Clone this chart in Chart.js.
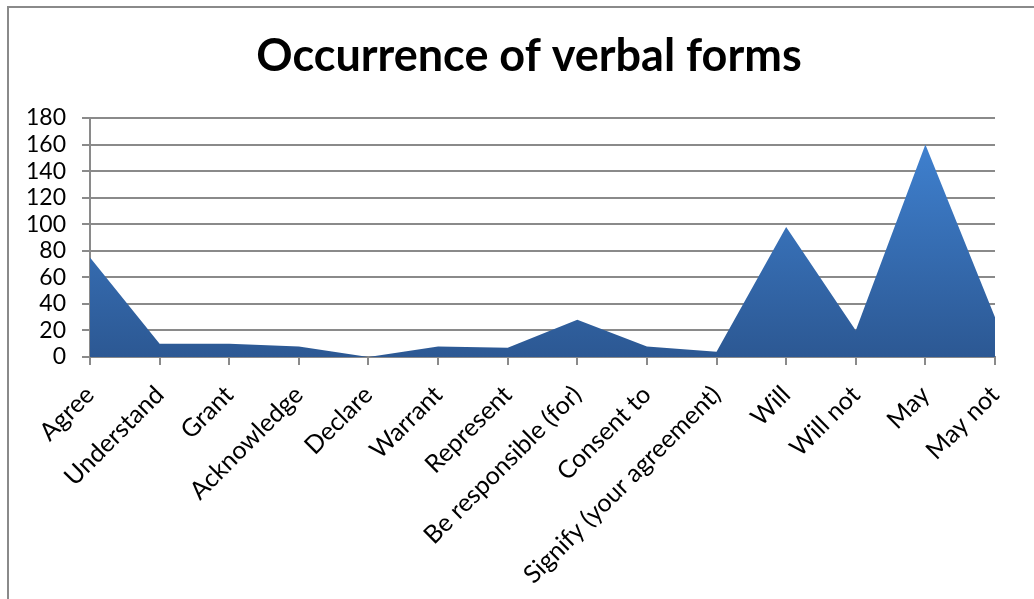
<!DOCTYPE html>
<html>
<head>
<meta charset="utf-8">
<script src="https://cdn.jsdelivr.net/npm/chart.js@4/dist/chart.umd.min.js"></script>
<style>
  html, body { margin: 0; padding: 0; background: #fff; overflow: hidden; }
  #frame { position: absolute; left: 7px; top: 6px; width: 1100px; height: 700px; border: 2px solid #8a8a8a; box-sizing: border-box; }
  #wrap { position: absolute; left: 0; top: 0; width: 1034px; height: 599px; }
</style>
</head>
<body>
<div id="frame"></div>
<div id="wrap"><canvas id="c" width="1034" height="599"></canvas></div>
<script>
const categories = ["Agree", "Understand", "Grant", "Acknowledge", "Declare", "Warrant", "Represent",
  "Be responsible (for)", "Consent to", "Signify (your agreement)", "Will", "Will not", "May", "May not"];
const occurrences = [75, 10, 10, 8, 0, 8, 7, 28, 8, 4, 98, 20, 160, 30];
const yTicks = [0, 20, 40, 60, 80, 100, 120, 140, 160, 180];
const chartTitle = "Occurrence of verbal forms";

const FONT = "Lato, 'Open Sans', sans-serif";

const titlePlugin = {
  id: 'centeredTitle',
  afterDraw(chart) {
    const ctx = chart.ctx;
    ctx.save();
    ctx.fillStyle = '#000';
    ctx.font = "bold 45px " + FONT;
    ctx.textAlign = 'center';
    ctx.textBaseline = 'alphabetic';
    ctx.fillText(chartTitle, 529, 71);
    ctx.restore();
  }
};

new Chart(document.getElementById('c'), {
  type: 'line',
  data: {
    labels: categories,
    datasets: [{
      data: occurrences,
      fill: 'origin',
      tension: 0,
      pointRadius: 0,
      borderWidth: 0,
      borderColor: 'rgba(0,0,0,0)',
      backgroundColor: function (ctx) {
        const chart = ctx.chart;
        const a = chart.chartArea;
        if (!a) return '#3a6fb0';
        const g = chart.ctx.createLinearGradient(0, a.top, 0, a.bottom);
        g.addColorStop(0, '#4185d6');
        g.addColorStop(1, '#2c5893');
        return g;
      }
    }]
  },
  plugins: [titlePlugin],
  options: {
    responsive: false,
    animation: false,
    layout: { padding: { left: 0, right: 39, top: 118, bottom: 0 } },
    plugins: {
      legend: { display: false },
      tooltip: { enabled: false },
      title: { display: false }
    },
    scales: {
      x: {
        offset: false,
        afterFit: function (s) { s.height = 242; },
        grid: { display: true, drawOnChartArea: false, drawTicks: true, tickLength: 8, color: '#8a8a8a', lineWidth: 2 },
        border: { display: true, color: '#8a8a8a', width: 2 },
        ticks: {
          autoSkip: false, maxRotation: 45, minRotation: 45, padding: 15,
          color: '#000', font: { family: FONT, size: 25 }
        }
      },
      y: {
        min: 0, max: 180,
        afterFit: function (s) { s.width = 90; },
        afterBuildTicks: function (s) { s.ticks = yTicks.map(v => ({ value: v })); },
        grid: { color: '#8a8a8a', lineWidth: 2, tickLength: 8 },
        border: { display: true, color: '#8a8a8a', width: 2 },
        ticks: { autoSkip: false, padding: 16, color: '#000', font: { family: FONT, size: 23 } }
      }
    }
  }
});
</script>
</body>
</html>
